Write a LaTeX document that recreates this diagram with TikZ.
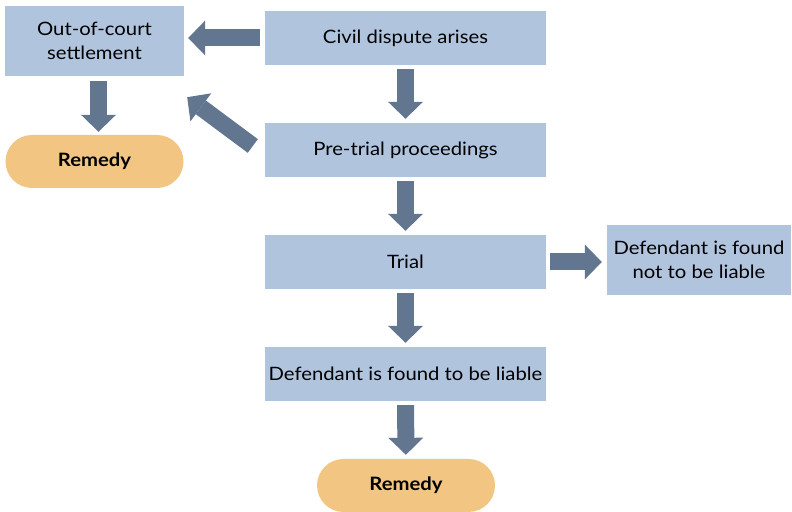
\documentclass[tikz,border=0pt]{standalone}
\usepackage{fontspec}
\setmainfont{Lato}[FakeStretch=1.1]
\usepackage{xcolor}
\usepackage{tikz}
\usetikzlibrary{arrows.meta, calc}
\definecolor{boxblue}{HTML}{B0C4DE}
\definecolor{remedyorange}{HTML}{F2C682}
\definecolor{arrowslate}{HTML}{627690}
\tikzset{
  stagebox/.style={fill=boxblue, inner sep=0pt, minimum width=281bp, minimum height=54bp,
    align=center, font=\fontsize{18.5}{24}\selectfont},
  remedybox/.style={fill=remedyorange, rounded corners=26.5bp, inner sep=0pt,
    minimum width=178bp, minimum height=53bp, font=\fontsize{18.5}{24}\selectfont\bfseries},
  blockarrow/.style={draw=arrowslate, line width=17bp,
    -{Triangle[width=35bp, length=17bp, line width=0pt]}, shorten <=4bp, shorten >=4bp}
}
\begin{document}
\begin{tikzpicture}[x=1bp, y=1bp]
\useasboundingbox (0,0) rectangle (792,512);
% the boxes
\node[stagebox] (civil) at (405.5,474) {Civil dispute arises};
\node[stagebox] (pretrial) at (405.5,362) {Pre-trial proceedings};
\node[stagebox] (trial) at (405.5,250) {Trial};
\node[stagebox] (liable) at (405.5,138) {Defendant is found to be liable};
\node[stagebox, minimum width=179bp, minimum height=70bp] (settle) at (94.5,471)
    {Out-of-court\\settlement};
\node[stagebox, minimum width=184bp, minimum height=70bp] (notliable) at (699,252)
    {Defendant is found\\not to be liable};
\node[remedybox] (remedyleft) at (94.5,350.5) {Remedy};
\node[remedybox] (remedybottom) at (406,26.5) {Remedy};
% the arrows
\draw[blockarrow] (civil) -- (pretrial);
\draw[blockarrow] (pretrial) -- (trial);
\draw[blockarrow] (trial) -- (liable);
\draw[blockarrow] (liable) -- (remedybottom);
\draw[blockarrow, shorten <=5bp] (civil.west) -- (civil.west -| settle.east);
\draw[blockarrow, shorten <=5bp, shorten >=3bp]
    ([xshift=4bp]settle.south) -- ([xshift=4bp]remedyleft.north);
\draw[blockarrow, shorten >=5bp] (trial.east) -- (trial.east -| notliable.west);
\coordinate (diagtail) at ([xshift=-12bp, yshift=4bp]pretrial.west);
\coordinate (diagtip) at ([xshift=3bp, yshift=-21bp]settle.south east);
\draw[blockarrow, shorten <=0bp, shorten >=0bp] (diagtail) -- (diagtip);
\end{tikzpicture}
\end{document}
